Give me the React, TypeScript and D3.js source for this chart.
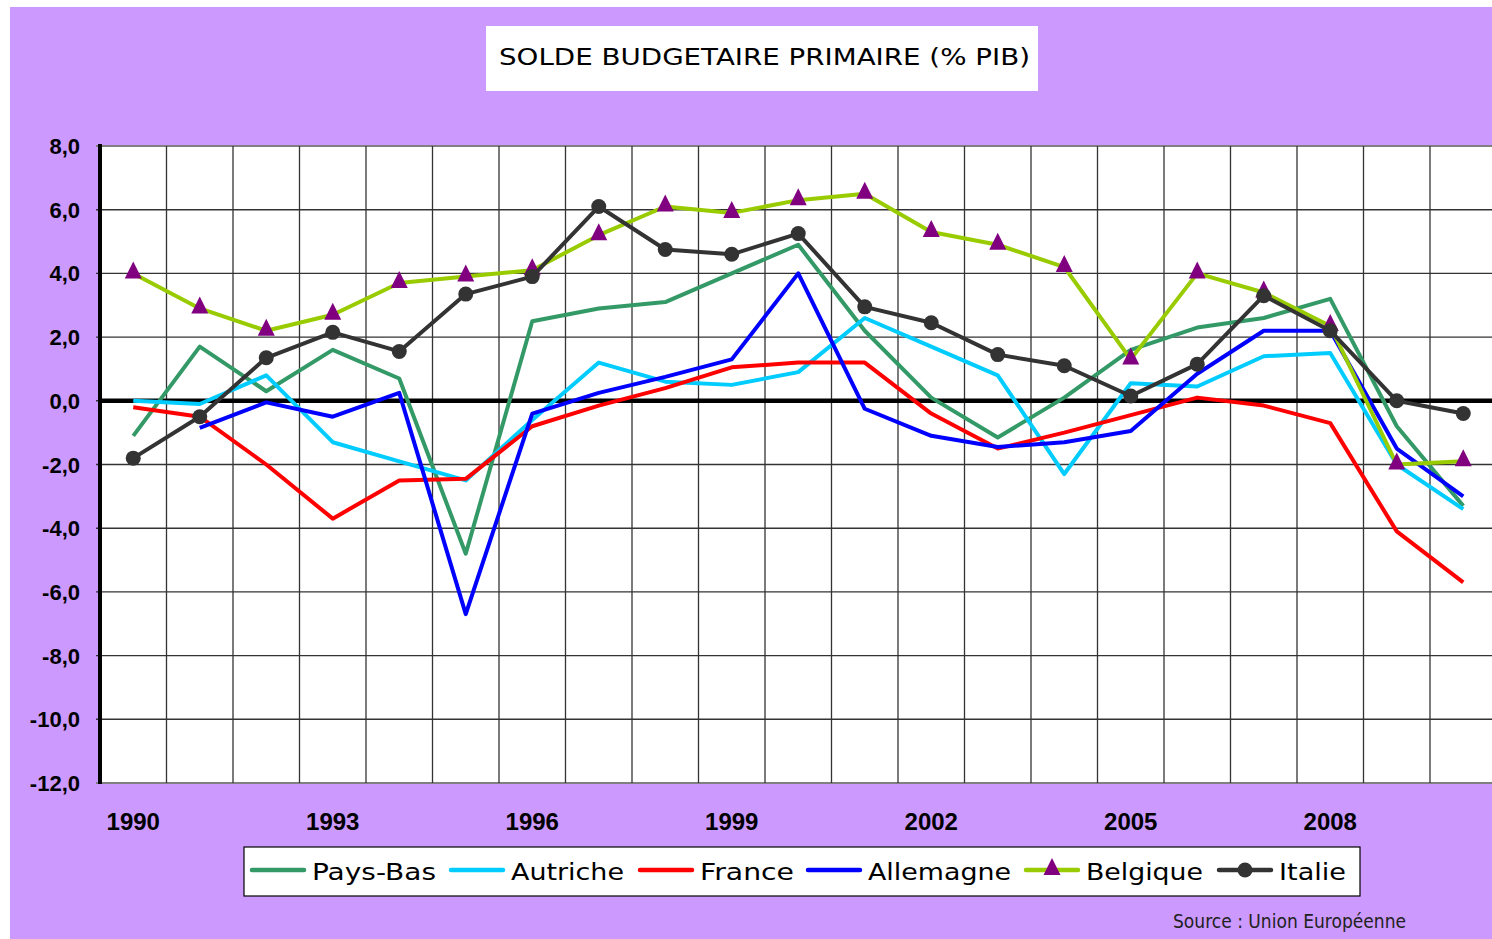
import { useEffect, useRef } from "react";
import * as d3 from "d3";

const years = d3.range(1990, 2011).map(String);

const paysBas = [-1.1, 1.7, 0.3, 1.6, 0.7, -4.8, 2.5, 2.9, 3.1, 4.0, 4.9, 2.2, 0.1, -1.15, 0.1, 1.6, 2.3, 2.6, 3.2, -0.8, -3.3];
const autriche = [0.0, -0.1, 0.8, -1.3, -1.9, -2.5, -0.6, 1.2, 0.6, 0.5, 0.9, 2.6, 1.7, 0.8, -2.3, 0.55, 0.45, 1.4, 1.5, -2.0, -3.4];
const france = [-0.2, -0.5, -2.0, -3.7, -2.5, -2.45, -0.8, -0.15, 0.4, 1.05, 1.2, 1.2, -0.4, -1.5, -1.0, -0.45, 0.1, -0.15, -0.7, -4.1, -5.7];
const allemagne = [null, -0.85, -0.05, -0.5, 0.25, -6.7, -0.4, 0.25, 0.75, 1.3, 4.0, -0.25, -1.1, -1.45, -1.3, -0.95, 0.85, 2.2, 2.2, -1.5, -3.0];
const belgique = [4.0, 2.9, 2.2, 2.7, 3.7, 3.9, 4.1, 5.2, 6.1, 5.9, 6.3, 6.5, 5.3, 4.9, 4.2, 1.3, 4.0, 3.4, 2.35, -2.0, -1.9];
const italie = [-1.8, -0.5, 1.35, 2.15, 1.55, 3.35, 3.9, 6.1, 4.75, 4.6, 5.25, 2.95, 2.45, 1.45, 1.1, 0.15, 1.15, 3.3, 2.2, 0.0, -0.4];

const seriesNames = ["Pays-Bas", "Autriche", "France", "Allemagne", "Belgique", "Italie"];
const seriesValues = [paysBas, autriche, france, allemagne, belgique, italie];
const seriesColors = ["#339966", "#00CCFF", "#FF0000", "#0000FF", "#99CC00", "#333333"];
const seriesMarkers = ["none", "none", "none", "none", "triangle", "circle"];

const yTicks = [8, 6, 4, 2, 0, -2, -4, -6, -8, -10, -12];
const yearLabels = ["1990", "1993", "1996", "1999", "2002", "2005", "2008"];

// legend layout (start x of each entry, text width)
const legendX = [252, 451, 640, 808, 1026, 1219];
const legendTextW = [124, 113, 94, 143, 117, 67];

const W = 1492;
const H = 939;

export default function App() {
  const svgRef = useRef<SVGSVGElement | null>(null);

  useEffect(() => {
    if (!svgRef.current) return;
    const svg = d3.select(svgRef.current);
    svg.selectAll("*").remove();

    const left = 100;
    const top = 146;
    const bottom = 783;
    const step = 66.5;
    const right = left + step * years.length;

    // backgrounds
    svg.append("rect").attr("width", W).attr("height", H).attr("fill", "#ffffff");
    svg.append("rect").attr("x", 10).attr("y", 7).attr("width", W - 10).attr("height", H - 7).attr("fill", "#CC99FF");

    // title
    svg.append("rect").attr("x", 486).attr("y", 26).attr("width", 552).attr("height", 65).attr("fill", "#ffffff");
    svg
      .append("text")
      .attr("x", 499)
      .attr("y", 65)
      .attr("font-family", "DejaVu Sans, Verdana, sans-serif")
      .attr("font-size", 23)
      .attr("textLength", 531)
      .attr("lengthAdjust", "spacingAndGlyphs")
      .attr("fill", "#000")
      .text("SOLDE BUDGETAIRE PRIMAIRE (% PIB)");

    const x = d3.scaleBand<string>().domain(years).range([left, right]).paddingInner(0).paddingOuter(0);
    const cx = (yr: string) => (x(yr) as number) + x.bandwidth() / 2;
    const y = d3.scaleLinear().domain([-12, 8]).range([bottom, top]);

    // plot area
    svg.append("rect").attr("x", left).attr("y", top).attr("width", right - left).attr("height", bottom - top).attr("fill", "#ffffff");

    const grid = svg.append("g");
    yTicks.forEach((t) => {
      grid
        .append("line")
        .attr("x1", left - 4)
        .attr("x2", right)
        .attr("y1", y(t))
        .attr("y2", y(t))
        .attr("stroke", t === 8 || t === -12 ? "#808080" : "#333333")
        .attr("stroke-width", t === 8 || t === -12 ? 2 : 1.4);
    });
    years.forEach((yr, i) => {
      if (i === 0) return;
      grid
        .append("line")
        .attr("x1", x(yr) as number)
        .attr("x2", x(yr) as number)
        .attr("y1", top)
        .attr("y2", bottom)
        .attr("stroke", "#333333")
        .attr("stroke-width", 1.3);
    });

    // zero line & y axis
    svg.append("line").attr("x1", left).attr("x2", right).attr("y1", y(0)).attr("y2", y(0)).attr("stroke", "#000").attr("stroke-width", 4.5);
    svg.append("line").attr("x1", left).attr("x2", left).attr("y1", top - 2).attr("y2", bottom + 1).attr("stroke", "#000").attr("stroke-width", 4);

    // y labels
    yTicks.forEach((t) => {
      svg
        .append("text")
        .attr("x", 80)
        .attr("y", y(t) + 8)
        .attr("text-anchor", "end")
        .attr("font-family", "Liberation Sans Narrow, Arial Narrow, sans-serif")
        .attr("font-weight", "bold")
        .attr("font-size", 22)
        .attr("fill", "#000")
        .text(d3.format(".1f")(t).replace(".", ",").replace("−", "-"));
    });

    // x labels
    yearLabels.forEach((yr) => {
      svg
        .append("text")
        .attr("x", cx(yr))
        .attr("y", 830)
        .attr("text-anchor", "middle")
        .attr("font-family", "Liberation Sans Narrow, Arial Narrow, sans-serif")
        .attr("font-weight", "bold")
        .attr("font-size", 24)
        .attr("fill", "#000")
        .text(yr);
    });

    const triPath = "M0,-10L8.5,7L-8.5,7Z";

    // series
    seriesValues.forEach((vals, si) => {
      const pts = vals.map((v, i) => ({ yr: years[i], v }));
      const line = d3
        .line<{ yr: string; v: number | null }>()
        .defined((d) => d.v !== null)
        .x((d) => cx(d.yr))
        .y((d) => y(d.v as number));
      svg
        .append("path")
        .datum(pts)
        .attr("fill", "none")
        .attr("stroke", seriesColors[si])
        .attr("stroke-width", 4)
        .attr("stroke-linejoin", "round")
        .attr("d", line);

      const valid = pts.filter((d) => d.v !== null);
      if (seriesMarkers[si] === "circle") {
        svg
          .selectAll(`circle.s${si}`)
          .data(valid)
          .enter()
          .append("circle")
          .attr("cx", (d) => cx(d.yr))
          .attr("cy", (d) => y(d.v as number))
          .attr("r", 7.5)
          .attr("fill", "#333333");
      } else if (seriesMarkers[si] === "triangle") {
        svg
          .selectAll(`path.s${si}`)
          .data(valid)
          .enter()
          .append("path")
          .attr("d", triPath)
          .attr("transform", (d) => `translate(${cx(d.yr)},${y(d.v as number) - 2})`)
          .attr("fill", "#800080");
      }
    });

    // legend
    svg.append("rect").attr("x", 244).attr("y", 847).attr("width", 1116).attr("height", 49).attr("fill", "#ffffff").attr("stroke", "#000").attr("stroke-width", 1.2);
    seriesNames.forEach((name, si) => {
      const lx = legendX[si];
      const ly = 870;
      svg
        .append("line")
        .attr("x1", lx)
        .attr("x2", lx + 52)
        .attr("y1", ly)
        .attr("y2", ly)
        .attr("stroke", seriesColors[si])
        .attr("stroke-width", 4.5)
        .attr("stroke-linecap", "round");
      if (seriesMarkers[si] === "circle") {
        svg.append("circle").attr("cx", lx + 26).attr("cy", ly).attr("r", 7.5).attr("fill", "#333333");
      } else if (seriesMarkers[si] === "triangle") {
        svg.append("path").attr("d", triPath).attr("transform", `translate(${lx + 26},${ly - 2})`).attr("fill", "#800080");
      }
      svg
        .append("text")
        .attr("x", lx + 60)
        .attr("y", 880)
        .attr("font-family", "DejaVu Sans, Verdana, sans-serif")
        .attr("font-size", 23)
        .attr("textLength", legendTextW[si])
        .attr("lengthAdjust", "spacingAndGlyphs")
        .attr("fill", "#000")
        .text(name);
    });

    // source
    svg
      .append("text")
      .attr("x", 1173)
      .attr("y", 928)
      .attr("font-family", "Liberation Sans Narrow, DejaVu Sans Condensed, sans-serif")
      .attr("font-size", 19)
      .attr("textLength", 233)
      .attr("lengthAdjust", "spacingAndGlyphs")
      .attr("fill", "#222")
      .text("Source : Union Européenne");
  }, []);

  return (
    <svg
      ref={svgRef}
      width={W}
      height={H}
      style={{ position: "absolute", left: 0, top: 0, display: "block" }}
    />
  );
}
